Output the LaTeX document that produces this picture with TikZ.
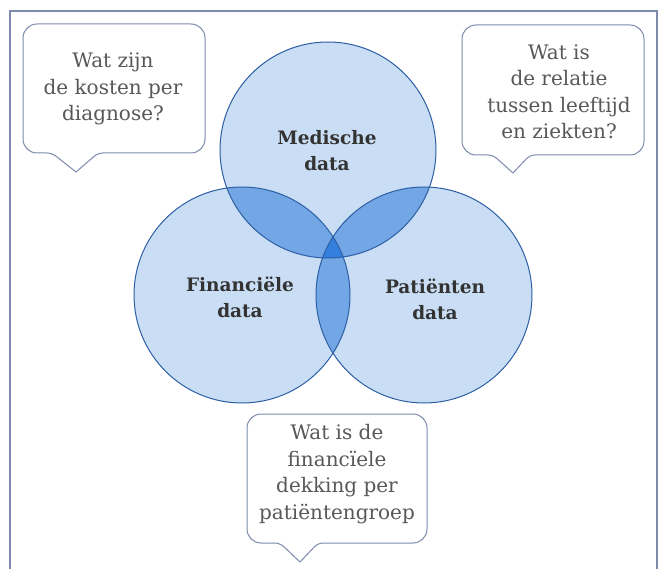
\documentclass[tikz,border=0pt]{standalone}
\usepackage{fontspec}
\setmainfont{DejaVu Serif}

\definecolor{vennfill}{RGB}{201,221,244}
\definecolor{venntwo}{RGB}{115,166,228}
\definecolor{vennthree}{RGB}{52,128,222}
\definecolor{vennline}{RGB}{45,95,165}
\definecolor{frameline}{RGB}{125,138,172}
\definecolor{asktext}{RGB}{88,88,88}

\tikzset{
	question/.style={align=center, text=asktext, font=\fontsize{20}{26.5}\selectfont},
	setlabel/.style={align=center, text=black!80, font=\bfseries\fontsize{18.5}{26}\selectfont},
	bubble/.style={draw=frameline, line width=1pt, fill=white}
}

\begin{document}
\begin{tikzpicture}[x=1pt, y=-1pt]
	\useasboundingbox (0,0) rectangle (659,569);
	% frame, open at the bottom
	\draw[frameline, line width=1.2pt] (10,569) -- (10,11) -- (657,11) -- (657,569);
	% the three sets
	\coordinate (med) at (328,150);
	\coordinate (fin) at (242,295);
	\coordinate (pat) at (424,295);
	\fill[vennfill] (med) circle(108pt) (fin) circle(108pt) (pat) circle(108pt);
	\begin{scope}
		\clip (med) circle(108pt);
		\fill[venntwo] (fin) circle(108pt) (pat) circle(108pt);
	\end{scope}
	\begin{scope}
		\clip (fin) circle(108pt);
		\fill[venntwo] (pat) circle(108pt);
	\end{scope}
	\begin{scope}
		\clip (med) circle(108pt);
		\clip (fin) circle(108pt);
		\fill[vennthree] (pat) circle(108pt);
	\end{scope}
	\draw[vennline, line width=1pt] (med) circle(108pt) (fin) circle(108pt) (pat) circle(108pt);
	\node[setlabel] (medlabel) at (327,151) {Medische\\data};
	\node[setlabel] (finlabel) at (240,297) {Financiële\\data};
	\node[setlabel] (patlabel) at (435,299) {Patiënten\\data};
	% speech bubbles
	\draw[bubble] (76,172) [rounded corners=5pt] -- (98,153) [rounded corners=14pt] -- (205,153) -- (205,24) -- (23,24) -- (23,153) [rounded corners=5pt] -- (52,153) [sharp corners] -- cycle;
	\draw[bubble] (513,173) [rounded corners=5pt] -- (530,155) [rounded corners=14pt] -- (644,155) -- (644,25) -- (462,25) -- (462,155) [rounded corners=5pt] -- (493,155) [sharp corners] -- cycle;
	\draw[bubble] (300,562) [rounded corners=5pt] -- (318,543) [rounded corners=14pt] -- (427,543) -- (427,414) -- (247,414) -- (247,543) [rounded corners=5pt] -- (280,543) [sharp corners] -- cycle;
	\node[question] (askcost) at (113,89) {Wat zijn\\de kosten per\\diagnose?};
	\node[question] (askage) at (559,92) {Wat is\\de relatie\\tussen leeftijd\\en ziekten?};
	\node[question] (askcover) at (337,474) {Wat is de\\financïele\\dekking per\\patiëntengroep};
\end{tikzpicture}
\end{document}
